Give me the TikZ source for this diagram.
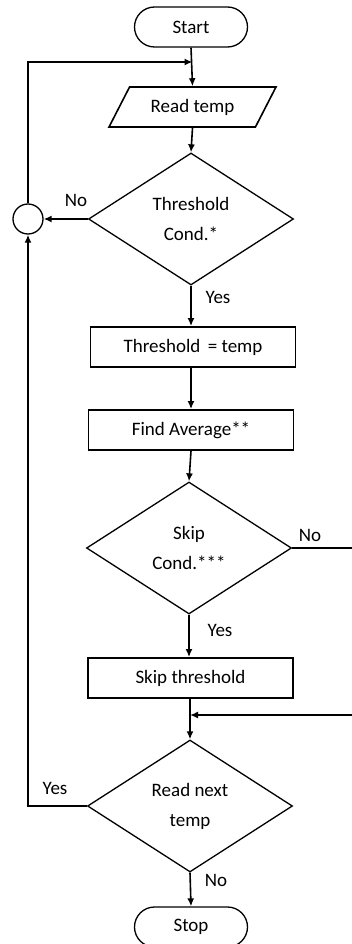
\documentclass[tikz,border=0pt]{standalone}
\usepackage{fontspec}
\setmainfont{Carlito}
\usetikzlibrary{shapes.geometric,shapes.misc,arrows.meta}
\begin{document}
\begin{tikzpicture}[x=1pt,y=-1pt,
  every node/.style={font=\fontsize{19}{30}\selectfont, text=black},
  term/.style={rounded rectangle, draw, line width=1.3pt, minimum width=113pt, minimum height=40pt, inner sep=0pt},
  io/.style={trapezium, trapezium left angle=50, trapezium right angle=130, trapezium stretches=true,
             draw, line width=1.6pt, minimum width=167pt, minimum height=40pt, inner sep=0pt},
  proc/.style={rectangle, draw, line width=1.8pt, minimum width=205pt, minimum height=40pt, inner sep=0pt},
  cond/.style={diamond, draw, line width=1.3pt, minimum width=205pt, minimum height=132pt, inner sep=0pt, align=center},
  junct/.style={circle, draw, line width=1.3pt, minimum size=30pt, inner sep=0pt},
  lbl/.style={inner sep=0pt},
  flow/.style={line width=1.6pt, -{Latex[length=8pt,width=7pt]}},
  wire/.style={line width=1.6pt}]
\useasboundingbox (0,0) rectangle (352,944);
\clip (0,0) rectangle (352,944);

% nodes
\node[term] (start) at (191,27) {Start};
\node[io] (read) at (192.5,107) {Read temp};
\node[cond] (c1) at (191,219) {Threshold\\Cond.*};
\node[junct] (j) at (28,219) {};
\node[proc] (set) at (193,347) {Threshold \,= temp};
\node[proc] (avg) at (191,430) {Find Average**};
\node[cond] (c2) at (189,548) {Skip\\Cond.***};
\node[proc] (skip) at (190.5,678) {Skip threshold};
\node[cond] (c3) at (190,806) {Read next\\temp};
\node[term] (stop) at (191,927) {Stop};

% helper points
\coordinate (loopin) at (read.north |- 0,62);
\coordinate (jtop) at (j.north |- 0,62);
\coordinate (rtop) at (362,548);
\coordinate (rbot) at (362,715);
\coordinate (merge) at (c3.north |- 0,715);
\coordinate (ybot) at (j.south |- c3.west);

% main flow
\draw[flow] (start.south) -- (read.north);
\draw[flow] (j.north) -- (jtop) -- (loopin);
\draw[flow] (read.south) -- (c1.north);
\draw[flow] (c1.west) -- (j.east);
\draw[flow] (c1.south) -- (set.north -| c1.south);
\draw[flow] (set.south -| avg.north) -- (avg.north);
\draw[flow] (avg.south) -- (c2.north);
\draw[flow] (c2.south) -- (skip.north -| c2.south);
\draw[flow] (skip.south -| c3.north) -- (c3.north);
\draw[flow] (c2.east) -- (rtop) -- (rbot) -- (merge);
\draw[flow] (c3.west) -- (ybot) -- (j.south);
\draw[flow] (c3.south) -- (stop.north);

% branch labels
\node[lbl] at (76,200) {No};
\node[lbl] at (218,297) {Yes};
\node[lbl] at (310,535) {No};
\node[lbl] at (220,630) {Yes};
\node[lbl] at (55,788) {Yes};
\node[lbl] at (216,880) {No};
\end{tikzpicture}
\end{document}
